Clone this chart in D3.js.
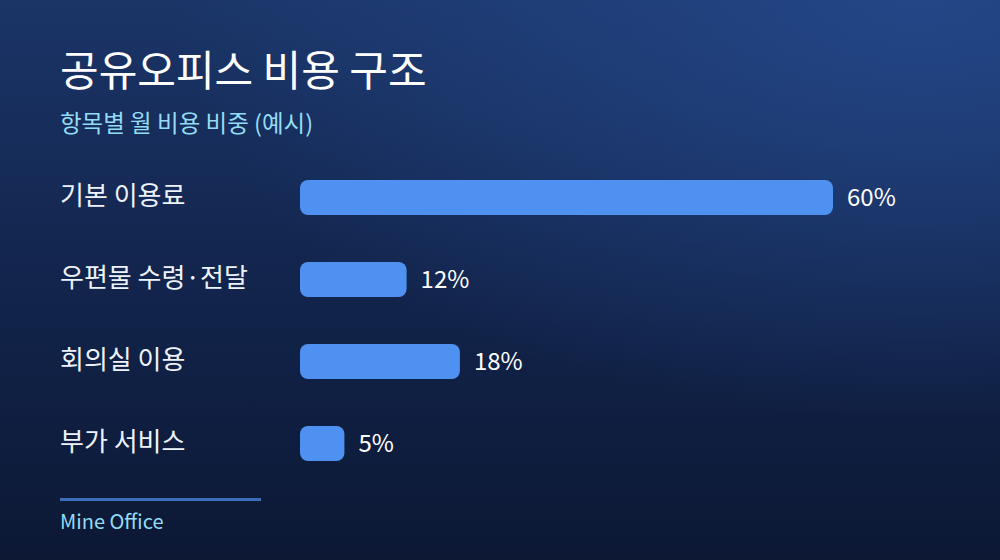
<!DOCTYPE html>
<html>
<head>
<meta charset="utf-8">
<script src="https://cdn.jsdelivr.net/npm/d3@7"></script>
<style>
  html, body { margin: 0; padding: 0; background: #0d1a38; }
  svg { display: block; font-family: "Noto Sans CJK KR", "Noto Sans", sans-serif; }
</style>
</head>
<body>
<div id="chart"></div>
<script>
// data
const categories = ["기본 이용료", "우편물 수령·전달", "회의실 이용", "부가 서비스"];
const shares = [60, 12, 18, 5];
const title = "공유오피스 비용 구조";
const subtitle = "항목별 월 비용 비중 (예시)";
const source = "Mine Office";

const W = 1000, H = 560;

const svg = d3.select("#chart").append("svg")
    .attr("width", W)
    .attr("height", H);

// background gradient
const defs = svg.append("defs");
const lin = defs.append("linearGradient")
    .attr("id", "bg")
    .attr("x1", "0").attr("y1", "0")
    .attr("x2", "0").attr("y2", "1");
lin.append("stop").attr("offset", "0%").attr("stop-color", "#1b3568");
lin.append("stop").attr("offset", "45%").attr("stop-color", "#13264f");
lin.append("stop").attr("offset", "100%").attr("stop-color", "#0c1834");
const rad = defs.append("radialGradient")
    .attr("id", "glow")
    .attr("cx", "0.92").attr("cy", "0")
    .attr("r", "0.75");
rad.append("stop").attr("offset", "0%").attr("stop-color", "#24488a").attr("stop-opacity", 0.9);
rad.append("stop").attr("offset", "100%").attr("stop-color", "#24488a").attr("stop-opacity", 0);

svg.append("rect").attr("width", W).attr("height", H).attr("fill", "url(#bg)");
svg.append("rect").attr("width", W).attr("height", H).attr("fill", "url(#glow)");

// header
svg.append("text")
    .attr("x", 60).attr("y", 86)
    .attr("fill", "#ffffff")
    .attr("font-size", 42)
    .text(title);
svg.append("text")
    .attr("x", 60).attr("y", 132)
    .attr("fill", "#94dcf4")
    .attr("font-size", 23.5)
    .text(subtitle);

// scales: step 82px, bar 35px
const x = d3.scaleLinear()
    .domain([0, d3.max(shares)])
    .range([300, 833]);
const y = d3.scaleBand()
    .domain(categories)
    .range([180, 461])
    .paddingInner(47 / 82)
    .paddingOuter(0);

const rows = svg.append("g").attr("class", "rows")
    .selectAll("g")
    .data(categories.map((c, i) => ({ name: c, value: shares[i] })))
    .join("g");

rows.append("text")
    .attr("x", 60)
    .attr("y", d => y(d.name) + y.bandwidth() / 2 - 2)
    .attr("dy", "0.35em")
    .attr("fill", "#eef3fb")
    .attr("font-size", 26)
    .text(d => d.name);

rows.append("rect")
    .attr("x", x(0))
    .attr("y", d => y(d.name))
    .attr("width", d => x(d.value) - x(0))
    .attr("height", y.bandwidth())
    .attr("rx", 8)
    .attr("fill", "#4f91f0");

rows.append("text")
    .attr("x", d => x(d.value) + 14)
    .attr("y", d => y(d.name) + y.bandwidth() / 2)
    .attr("dy", "0.35em")
    .attr("fill", "#ffffff")
    .attr("font-size", 24)
    .text(d => d.value + "%");

// footer
svg.append("line")
    .attr("x1", 60).attr("x2", 261)
    .attr("y1", 499.5).attr("y2", 499.5)
    .attr("stroke", "#3d6cbb")
    .attr("stroke-width", 3);
svg.append("text")
    .attr("x", 60).attr("y", 529)
    .attr("fill", "#94dcf4")
    .attr("font-size", 20)
    .text(source);
</script>
</body>
</html>
